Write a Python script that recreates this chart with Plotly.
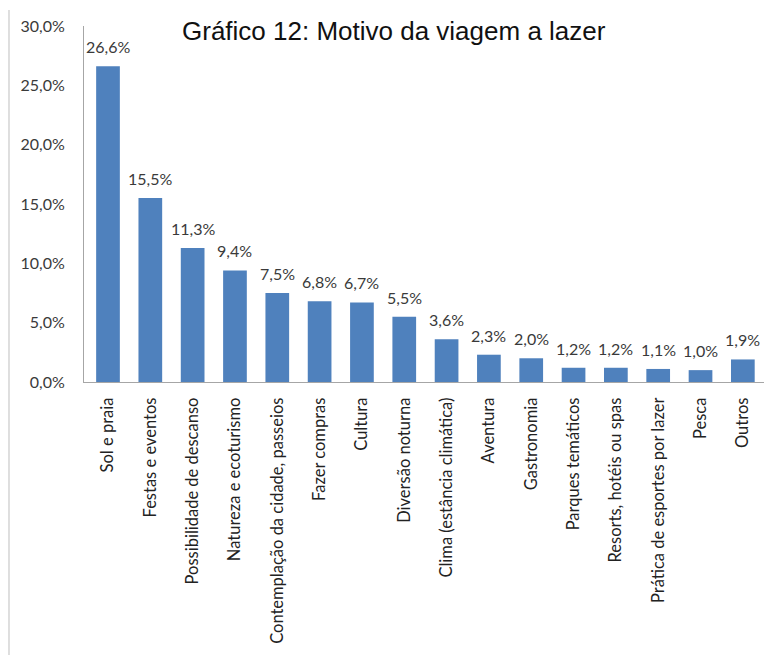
import plotly.graph_objects as go

# Gráfico 12 - Motivo da viagem a lazer
categories = [
    "Sol e praia", "Festas e eventos", "Possibilidade de descanso",
    "Natureza e ecoturismo", "Contemplação da cidade, passeios",
    "Fazer compras", "Cultura", "Diversão noturna",
    "Clima (estância climática)", "Aventura", "Gastronomia",
    "Parques temáticos", "Resorts, hotéis ou spas",
    "Prática de esportes por lazer", "Pesca", "Outros",
]
values = [26.6, 15.5, 11.3, 9.4, 7.5, 6.8, 6.7, 5.5, 3.6, 2.3, 2.0, 1.2, 1.2, 1.1, 1.0, 1.9]
y_ticks = [0, 5, 10, 15, 20, 25, 30]
y_tick_labels = ["0,0%", "5,0%", "10,0%", "15,0%", "20,0%", "25,0%", "30,0%"]

label_font = dict(family="Lato, Open Sans, sans-serif", size=16, color="#3a3a3a")

fig = go.Figure()
fig.add_trace(go.Bar(
    x=categories, y=values,
    marker=dict(color="#4F81BD", line=dict(width=0)),
    hoverinfo="skip",
))

# value labels above each bar
for cat, v in zip(categories, values):
    fig.add_annotation(
        x=cat, y=v, xref="x", yref="y",
        text=f"{v:.1f}%".replace(".", ","),
        showarrow=False, yanchor="bottom", yshift=8,
        font=label_font,
    )

# title at the very top
fig.add_annotation(
    text="Gráfico 12: Motivo da viagem a lazer",
    x=(386 - 76) / 680, xref="paper", xanchor="center",
    y=(374 - 6) / 356, yref="paper", yanchor="top",
    showarrow=False,
    font=dict(family="Liberation Sans, Arial, sans-serif", size=26, color="#111111"),
)

# faint left border of the pasted chart image
fig.add_shape(
    type="line", xref="paper", yref="paper",
    x0=-0.1103, x1=-0.1103, y0=-0.77, y1=1.045,
    line=dict(color="#d4d4d4", width=1.5),
)

fig.update_layout(
    width=764, height=647,
    margin=dict(l=76, r=8, t=18, b=273),
    paper_bgcolor="white", plot_bgcolor="white",
    bargap=0.44,
    showlegend=False,
)
fig.update_xaxes(
    tickangle=-90, showgrid=False,
    showline=True, linecolor="#a6a6a6", linewidth=1,
    ticks="", tickfont=dict(family="Lato, Open Sans, sans-serif", size=16.5, color="#222222"),
    ticklabelstandoff=8,
)
fig.update_yaxes(
    range=[0, 30], tickvals=y_ticks, ticktext=y_tick_labels,
    showgrid=False, zeroline=False,
    showline=True, linecolor="#a6a6a6", linewidth=1,
    ticks="", ticklabelstandoff=15,
    tickfont=label_font,
)

fig.write_html("out.html")
